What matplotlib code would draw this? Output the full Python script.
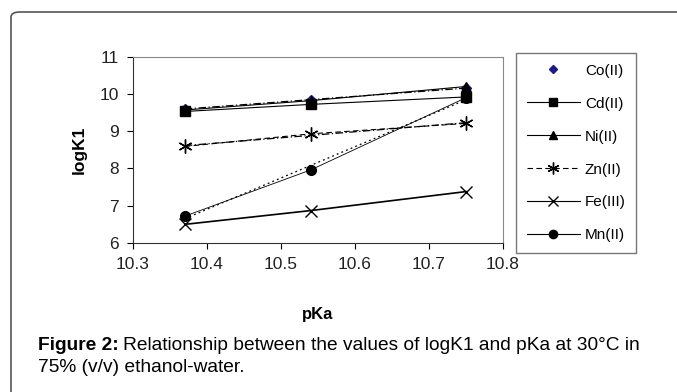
import numpy as np
import matplotlib
matplotlib.use("Agg")
import matplotlib.pyplot as plt
from matplotlib.patches import FancyBboxPatch

plt.rcParams['font.family'] = ['Liberation Sans', 'DejaVu Sans']

# logK1 of the metal complexes against ligand pKa
pka = [10.37, 10.54, 10.75]
co = [9.60, 9.84, 10.16]
cd = [9.53, 9.72, 9.92]
ni = [9.57, 9.82, 10.20]
zn = [8.59, 8.93, 9.21]
fe = [6.50, 6.87, 7.38]
mn = [6.72, 7.96, 9.90]

xticks = [10.3, 10.4, 10.5, 10.6, 10.7, 10.8]
yticks = [6, 7, 8, 9, 10, 11]

fig = plt.figure(figsize=(6.77, 3.92), dpi=100)

# rounded outer frame
frame = FancyBboxPatch((11 / 677, -0.2), 1.2, 1.2 - 12 / 392,
                       boxstyle="round,pad=0,rounding_size=0.013",
                       transform=fig.transFigure, fill=False,
                       edgecolor='#555555', linewidth=1.2, clip_on=False)
fig.patches.append(frame)

ax = fig.add_axes([133 / 677, 1 - 243 / 392, 370 / 677, 186.3 / 392])

lk = dict(color='black', linewidth=0.9)
ax.plot(pka, co, linestyle='none', marker='D', markersize=5,
        color='#1a1a8c', label='Co(II)')
ax.plot(pka, cd, marker='s', markersize=7, color='black', linewidth=0.8,
        label='Cd(II)')
ax.plot(pka, ni, marker='^', markersize=7.5, color='black', linewidth=0.8,
        label='Ni(II)')
ax.plot(pka, zn, marker=(6, 2, 0), markersize=10, color='black',
        linestyle=(0, (5, 3)), linewidth=0.8, markeredgewidth=1.0,
        label='Zn(II)')
ax.plot(pka, fe, marker='x', markersize=9, color='black', linewidth=1.2,
        markeredgewidth=1.0, label='Fe(III)')
ax.plot(pka, mn, marker='o', markersize=7, color='black', linewidth=0.6,
        label='Mn(II)')

# linear trendlines
xs = np.array([pka[0], pka[-1]])
for ys, ls in [(co, (0, (6, 2, 1, 2))), (zn, (0, (6, 2, 1, 2))),
               (mn, (0, (1.5, 2.5)))]:
    k, b = np.polyfit(pka, ys, 1)
    ax.plot(xs, k * xs + b, linestyle=ls, **lk)

ax.set_xlim(10.3, 10.8)
ax.set_ylim(6, 11)
ax.set_xticks(xticks)
ax.set_yticks(yticks)
ax.set_xticklabels([f'{t:.1f}' for t in xticks], fontsize=12.5, color='#222222')
ax.set_yticklabels([str(t) for t in yticks], fontsize=12.5, color='#222222')
ax.tick_params(direction='out', length=4, width=0.8, pad=6)
for s in ['top', 'right']:
    ax.spines[s].set_color('#888888')
for s in ['left', 'bottom']:
    ax.spines[s].set_color('#333333')
ax.set_xlabel('pKa', fontsize=12, fontweight='bold', labelpad=25)
ax.set_ylabel('logK1', fontsize=12.5, fontweight='bold', labelpad=9)

leg = fig.legend(loc='upper left', bbox_to_anchor=(516 / 677, 1 - 53 / 392),
                 fontsize=11, frameon=True, fancybox=False,
                 handlelength=3.5, labelspacing=1.24, borderpad=0.7,
                 handletextpad=0.3, borderaxespad=0)
leg.get_frame().set_edgecolor('#555555')
leg.get_frame().set_linewidth(1.0)
for h in leg.legend_handles:
    h.set_linewidth(0.8)
    h.set_markersize(h.get_markersize() * 0.85)

# caption with bold lead-in
fig.canvas.draw()
r = fig.canvas.get_renderer()
t1 = fig.text(38 / 677, 1 - 346 / 392, 'Figure 2:', fontsize=13.8,
              fontweight='bold', va='center', ha='left')
bb = t1.get_window_extent(renderer=r)
fig.text(bb.x1 / fig.bbox.width + 4 / 677, 1 - 346 / 392,
         'Relationship between the values of logK1 and pKa at 30°C in',
         fontsize=13.8, va='center', ha='left')
fig.text(38 / 677, 1 - 368 / 392, '75% (v/v) ethanol-water.', fontsize=13.8,
         va='center', ha='left')

fig.savefig('out.png', dpi=100)
